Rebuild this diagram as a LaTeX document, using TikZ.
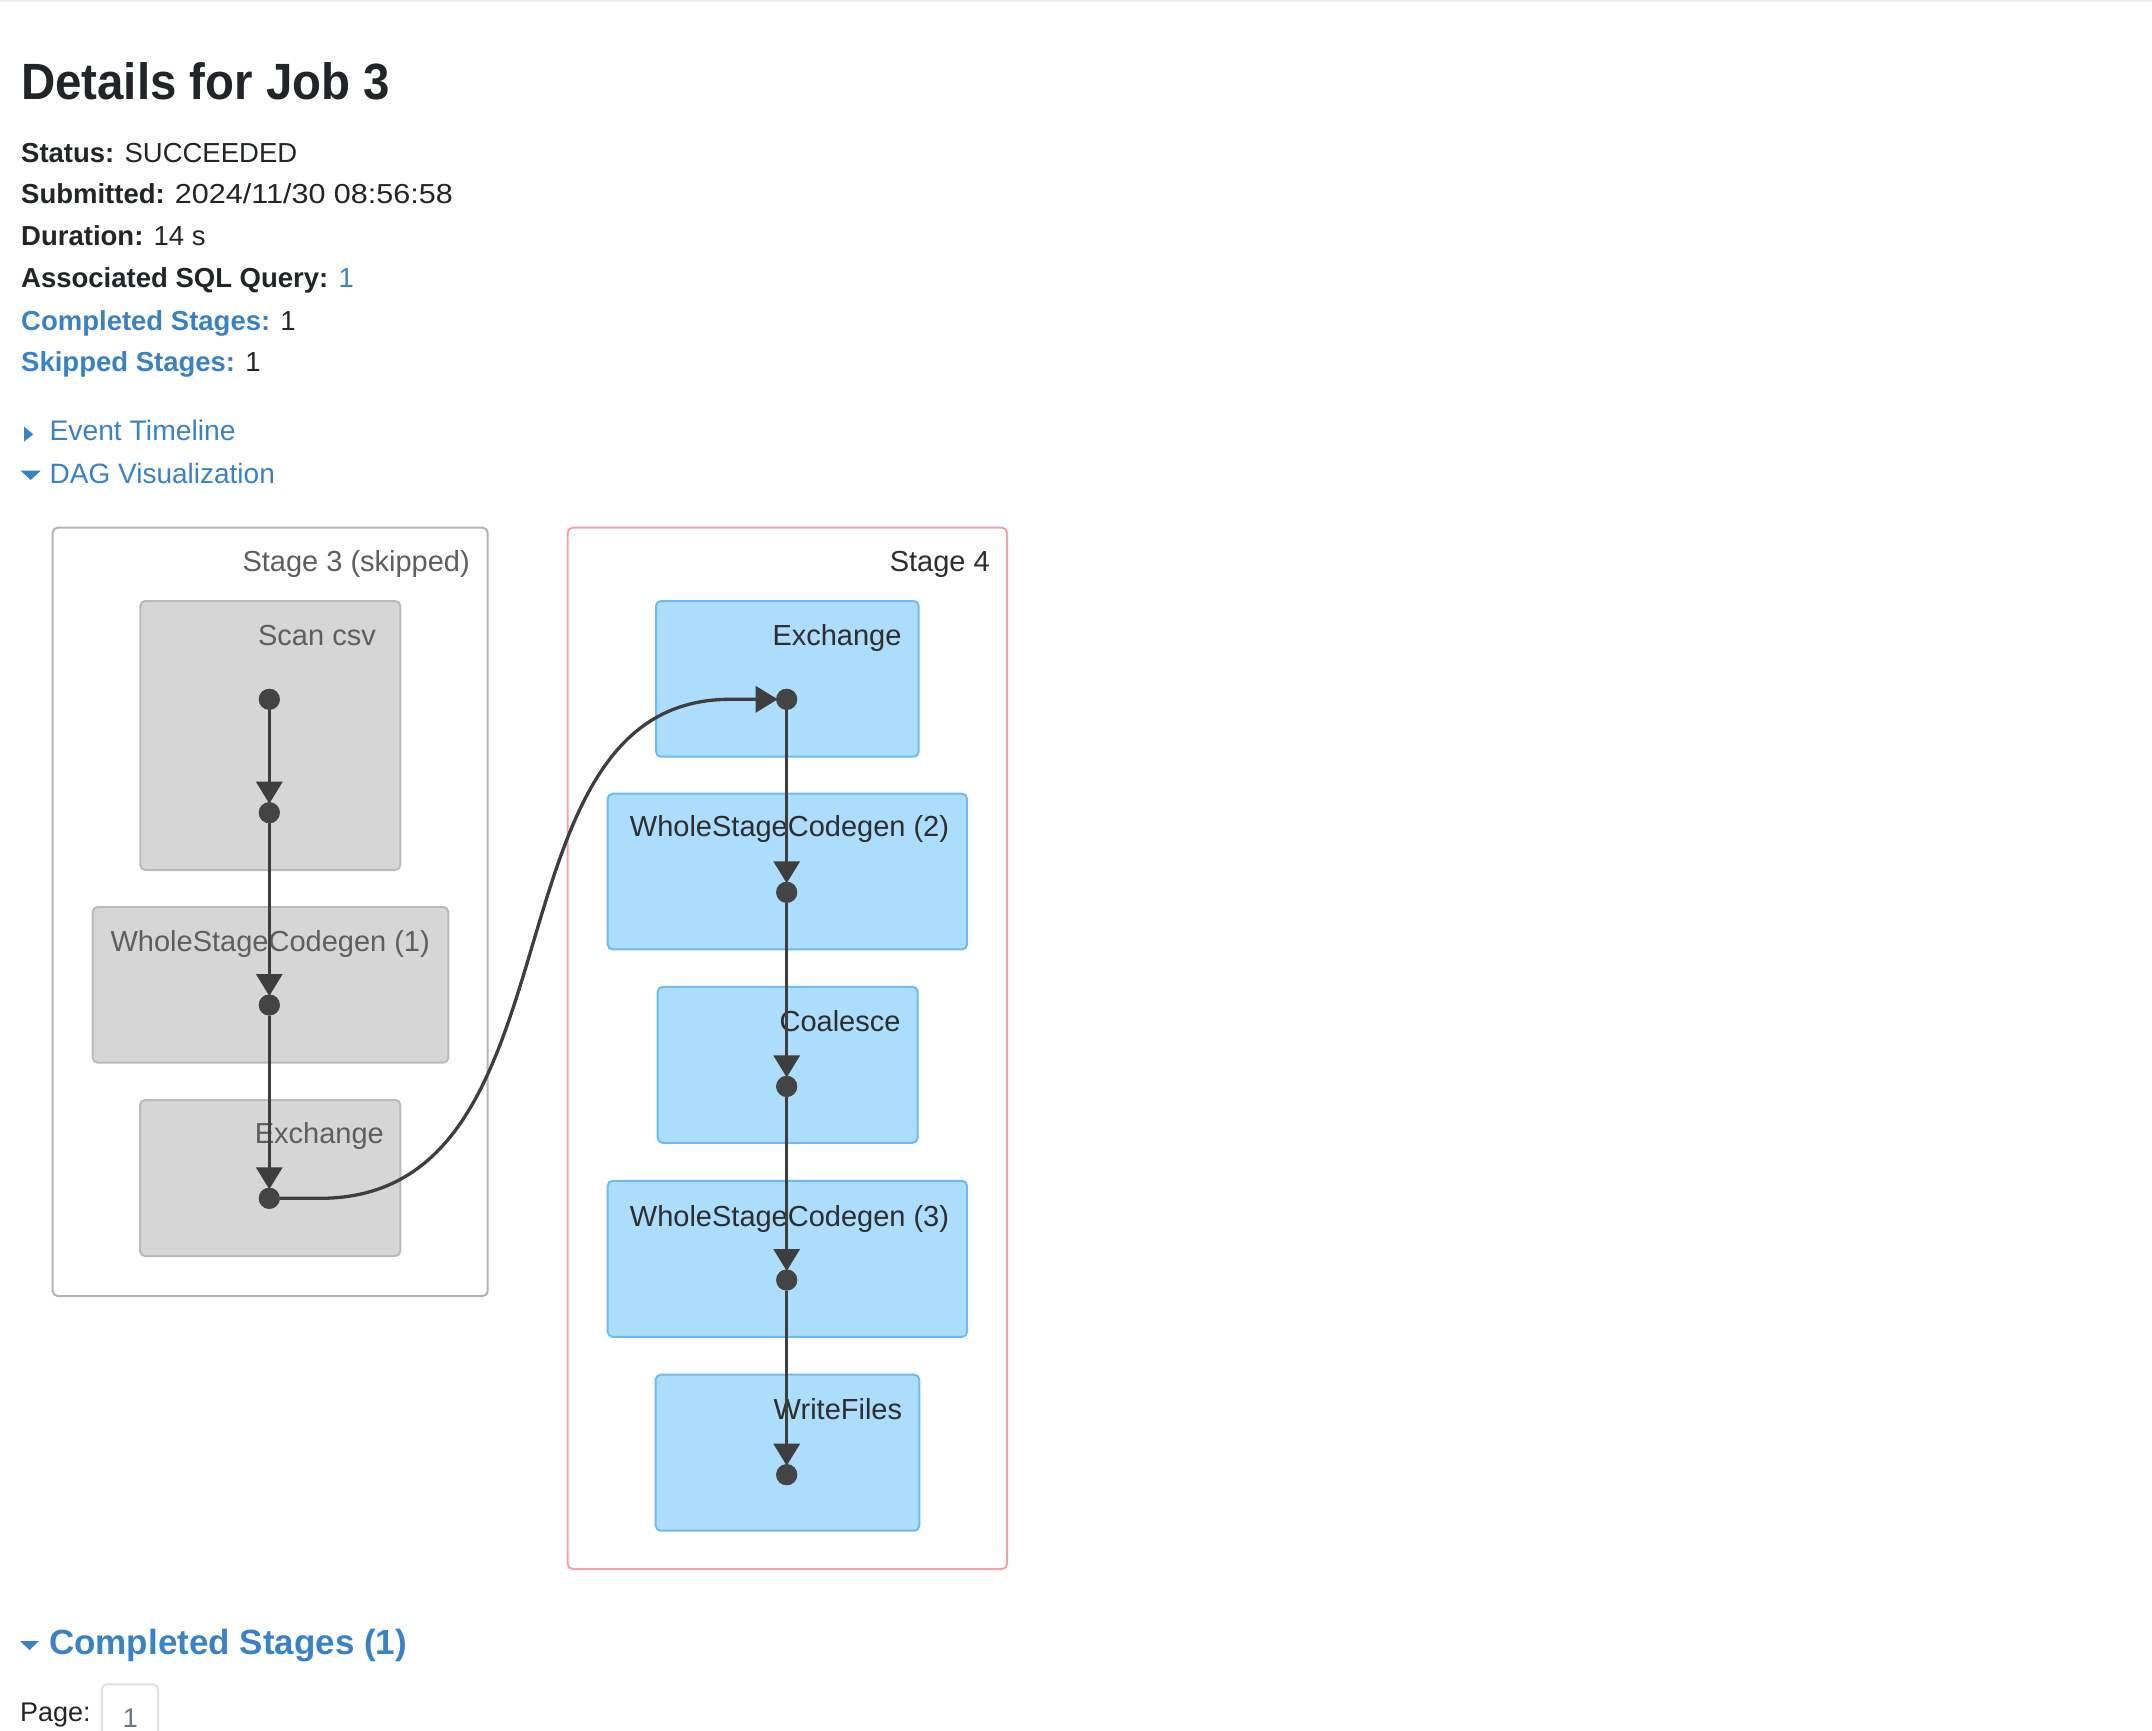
\documentclass[tikz,border=0pt]{standalone}
\usepackage{fontspec}
\setmainfont{Liberation Sans}
\newfontfamily\titlefont{Liberation Sans}[FakeStretch=0.93]
\usetikzlibrary{arrows.meta}
\definecolor{txt}{RGB}{33,37,41}
\definecolor{linkc}{RGB}{58,130,198}
\definecolor{gfill}{RGB}{214,214,214}
\definecolor{gborder}{RGB}{186,186,186}
\definecolor{gtext}{RGB}{94,94,94}
\definecolor{sgborder}{RGB}{180,180,180}
\definecolor{bfill}{RGB}{173,221,252}
\definecolor{bborder}{RGB}{110,186,242}
\definecolor{btext}{RGB}{45,45,45}
\definecolor{pinkb}{RGB}{242,162,174}
\definecolor{edgec}{RGB}{62,62,62}
\definecolor{dotc}{RGB}{68,68,68}
\definecolor{pageb}{RGB}{222,226,230}
\definecolor{pagetxt}{RGB}{108,117,125}
\tikzset{
  txtline/.style={anchor=base west, inner sep=0pt, text=txt, font=\fontsize{27.5}{33}\selectfont},
  stagegray/.style={draw=sgborder, line width=2pt, fill=white, rounded corners=5pt, anchor=north west, inner sep=0pt},
  stagepink/.style={draw=pinkb, line width=2pt, fill=white, rounded corners=5pt, anchor=north west, inner sep=0pt},
  gbox/.style={draw=gborder, fill=gfill, line width=2pt, rounded corners=5pt, anchor=north west, inner sep=0pt},
  bbox/.style={draw=bborder, fill=bfill, line width=2pt, rounded corners=5pt, anchor=north west, inner sep=0pt},
  glbl/.style={anchor=base east, inner sep=0pt, text=gtext, font=\fontsize{29}{35}\selectfont},
  blbl/.style={anchor=base east, inner sep=0pt, text=btext, font=\fontsize{29}{35}\selectfont},
  dotnode/.style={circle, fill=dotc, minimum size=21pt, inner sep=0pt, outer sep=0pt},
  edgeline/.style={draw=edgec, line width=3.3pt, shorten >=-1.5pt, -{Triangle[length=22pt,width=26pt]}},
}
\begin{document}
\begin{tikzpicture}[x=1pt,y=-1pt]
\useasboundingbox (0,0) rectangle (2152,1730);
\fill[white] (0,0) rectangle (2152,1730);
\fill[black!7] (0,0) rectangle (2152,2);

% header
\node[anchor=base west, inner sep=0pt, text=txt, font=\titlefont\fontsize{51}{60}\selectfont\bfseries] (title) at (21,99) {Details for Job 3};
\node[txtline] (status) at (21,162) {\textbf{Status:} SUCCEEDED};
\node[txtline] (submitted) at (21,203.5) {\textbf{Submitted:} \scalebox{1.11}[1]{2024/11/30 08:56:58}};
\node[txtline] (duration) at (21,245.5) {\textbf{Duration:} 14 s};
\node[txtline] (assoc) at (21,287.3) {\textbf{Associated SQL Query:} \textcolor{linkc}{1}};
\node[txtline] (completed) at (21,330) {\textcolor{linkc}{\textbf{Completed Stages:}} 1};
\node[txtline] (skipped) at (21,371.7) {\textcolor{linkc}{\textbf{Skipped Stages:}} 1};

\fill[linkc] (24,426.7) -- (33.3,434.2) -- (24,441.7) -- cycle;
\node[txtline, text=linkc, font=\fontsize{28.3}{34}\selectfont] (event) at (49.3,440.7) {Event Timeline};
\fill[linkc] (20.7,470.7) -- (40.7,470.7) -- (30.7,480) -- cycle;
\node[txtline, text=linkc, font=\fontsize{28}{34}\selectfont] (dagvis) at (49.5,483.3) {DAG Visualization};

% stage clusters
\node[stagegray, minimum width=435pt, minimum height=768.3pt] (stage3) at (51.7,526.7) {};
\node[glbl] (stage3L) at (470,571.7) {Stage 3 (skipped)};
\node[stagepink, minimum width=439.3pt, minimum height=1041.3pt] (stage4) at (566.7,526.7) {};
\node[blbl] (stage4L) at (990,571.7) {Stage 4};

% stage 3 boxes
\node[gbox, minimum width=260pt, minimum height=269pt] (scan) at (139.3,600) {};
\node[glbl] (scanL) at (376,645) {Scan csv};
\node[gbox, minimum width=355.6pt, minimum height=155.7pt] (wsc1) at (91.7,906) {};
\node[glbl] (wsc1L) at (430,951.7) {WholeStageCodegen (1)};
\node[gbox, minimum width=260.3pt, minimum height=156pt] (exch3) at (139,1099) {};
\node[glbl] (exch3L) at (384,1143) {Exchange};

% stage 4 boxes
\node[bbox, minimum width=262.7pt, minimum height=155.7pt] (exch4) at (655,600) {};
\node[blbl] (exch4L) at (901.7,645) {Exchange};
\node[bbox, minimum width=359.3pt, minimum height=155.7pt] (wsc2) at (606.7,792.7) {};
\node[blbl] (wsc2L) at (949.3,836.7) {WholeStageCodegen (2)};
\node[bbox, minimum width=260pt, minimum height=156pt] (coal) at (656.7,985.8) {};
\node[blbl] (coalL) at (900.7,1031.5) {Coalesce};
\node[bbox, minimum width=359.3pt, minimum height=156pt] (wsc3) at (606.7,1179.8) {};
\node[blbl] (wsc3L) at (949.3,1226.3) {WholeStageCodegen (3)};
\node[bbox, minimum width=263.6pt, minimum height=156pt] (write) at (654.7,1373.7) {};
\node[blbl] (writeL) at (902.3,1419.9) {WriteFiles};

% dots
\node[dotnode] (a1) at (269.3,699.3) {};
\node[dotnode] (a2) at (269.3,812.7) {};
\node[dotnode] (a3) at (269.3,1005) {};
\node[dotnode] (a4) at (269.3,1198.3) {};
\node[dotnode] (b1) at (786.7,699.3) {};
\node[dotnode] (b2) at (786.7,892.3) {};
\node[dotnode] (b3) at (786.7,1086.4) {};
\node[dotnode] (b4) at (786.7,1280) {};
\node[dotnode] (b5) at (786.7,1474.7) {};

% edges
\draw[edgeline] (a1) -- (a2);
\draw[edgeline] (a2) -- (a3);
\draw[edgeline] (a3) -- (a4);
\coordinate (c1) at (320,1198.3);
\coordinate (c2) at (730,699.3);
\draw[edgeline] (a4.east) -- (c1) .. controls (590,1198.3) and (477,699.3) .. (c2) -- (b1.west);
\draw[edgeline] (b1) -- (b2);
\draw[edgeline] (b2) -- (b3);
\draw[edgeline] (b3) -- (b4);
\draw[edgeline] (b4) -- (b5);

% redraw dots on top
\foreach \d in {a1,a2,a3,a4,b1,b2,b3,b4,b5} {\fill[dotc] (\d.center) circle (10.5pt);}

% completed stages
\fill[linkc] (20,1641) -- (39,1641) -- (29.5,1650) -- cycle;
\node[anchor=base west, inner sep=0pt, text=linkc, font=\fontsize{35}{41}\selectfont\bfseries] (compl) at (49,1654) {Completed Stages (1)};
\node[txtline, font=\fontsize{27}{32}\selectfont] (page) at (20,1721.7) {Page:};
\draw[pageb, line width=2pt, rounded corners=5pt] (101.8,1790) -- (101.8,1684.3) -- (158,1684.3) -- (158,1790);
\node[anchor=base, inner sep=0pt, text=pagetxt, font=\fontsize{27}{32}\selectfont] (pagenum) at (130.5,1727.5) {1};
\end{tikzpicture}
\end{document}
